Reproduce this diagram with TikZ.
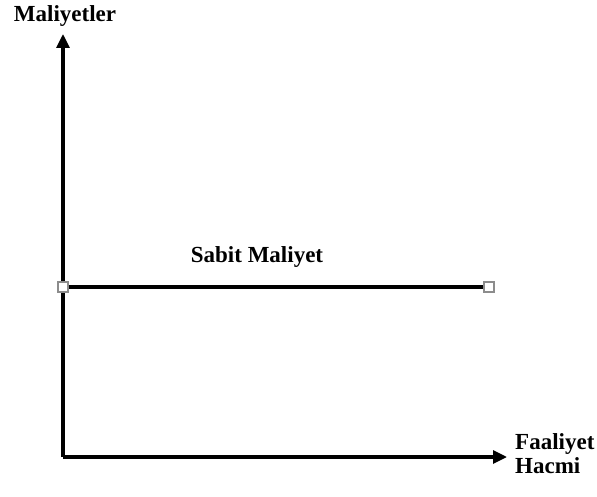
\documentclass[tikz,border=0pt]{standalone}
\usepackage{fontspec}
\setmainfont{Liberation Serif}
\usetikzlibrary{arrows.meta}
\begin{document}
\begin{tikzpicture}[x=1pt,y=-1pt,
  lbl/.style={font=\fontsize{23}{24}\selectfont\bfseries, inner sep=0pt},
  axis/.style={line width=3.2pt, -{Triangle[length=14pt,width=13pt]}},
  endbox/.style={draw=black!45, fill=white, line width=1.3pt, minimum size=10pt, inner sep=0pt}]
\useasboundingbox (0,0) rectangle (597,497);
\coordinate (o) at (63,457);
\coordinate (ytop) at (63,34);
\coordinate (xend) at (507,457);
\draw[axis] (o) -- (ytop);
\draw[axis] (o) -- (xend);
\node[endbox] (s1) at (63,287) {};
\node[endbox] (s2) at (489,287) {};
\draw[line width=3.2pt] (s1.east) -- (s2.west);
\node[lbl] (ylab) at (65,16) {Maliyetler};
\node[lbl] (fix) at (257,257) {Sabit Maliyet};
\node[lbl, align=left, anchor=west] (xlab) at (515,454) {Faaliyet\\Hacmi};
\end{tikzpicture}
\end{document}
